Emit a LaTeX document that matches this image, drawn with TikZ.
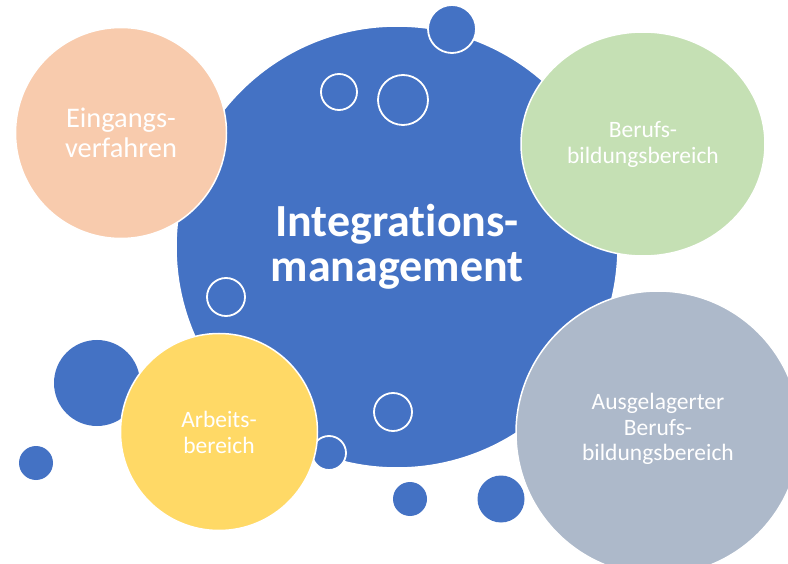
\documentclass[tikz,border=0pt]{standalone}
\usepackage{fontspec}
\setmainfont{Carlito}[Ligatures={NoCommon,NoRare,NoDiscretionary}]
\usetikzlibrary{shapes.geometric}
\definecolor{mainblue}{HTML}{4472C4}
\definecolor{peach}{HTML}{F8CBAD}
\definecolor{softgreen}{HTML}{C5E0B4}
\definecolor{softgray}{HTML}{ADB9CA}
\definecolor{softyellow}{HTML}{FFD966}
\begin{document}
\begin{tikzpicture}[x=1pt,y=-1pt,
  bubble/.style={circle, inner sep=0pt, outer sep=0pt, line width=1.5pt, draw=white, text=white, align=center},
  ring/.style={circle, inner sep=0pt, outer sep=0pt, draw=white, line width=1.8pt},
  dot/.style={circle, inner sep=0pt, outer sep=0pt, fill=mainblue},
  smalltext/.style={font=\fontsize{23.5}{26}\selectfont}]
\useasboundingbox (0,0) rectangle (788,564);
\clip (0,0) rectangle (788,564);
% main circle
\node[bubble, fill=mainblue, minimum size=442pt, font=\fontsize{46}{45}\selectfont\bfseries] (main) at (397,247) {Integrations-\\management};
% small decorative circles
\node[dot, draw=white, line width=1.8pt, minimum size=48pt] (topdot) at (452,29) {};
\node[ring, minimum size=36pt] (ringa) at (339,92) {};
\node[ring, minimum size=50pt] (ringb) at (403,100) {};
\node[ring, minimum size=38pt] (ringc) at (226,297) {};
\node[ring, minimum size=38pt] (ringd) at (393,412) {};
\node[dot, minimum size=34pt] (dota) at (410,499) {};
\node[dot, minimum size=47pt] (dotb) at (501,499) {};
\node[dot, minimum size=86pt] (dotc) at (97,383) {};
\node[dot, minimum size=34pt] (dotd) at (36,463) {};
\node[dot, draw=white, line width=1.8pt, minimum size=34pt] (dote) at (329,453) {};
% category circles
\node[bubble, fill=peach, minimum size=211pt, font=\fontsize{28.4}{30}\selectfont] (eing) at (121,133) {Eingangs-\\verfahren};
\node[bubble, ellipse, fill=softgreen, minimum width=244pt, minimum height=224pt, smalltext] (beruf) at (643,144) {Berufs-\\bildungsbereich};
\node[bubble, fill=softyellow, minimum size=197pt, smalltext] (arbeit) at (219,432) {Arbeits-\\bereich};
\node[bubble, fill=softgray, minimum size=284pt, font=\fontsize{23.5}{25.5}\selectfont] (ausg) at (658,433) {};
\node[text=white, align=center, font=\fontsize{23.5}{25.5}\selectfont] (ausgtext) at (ausg.center) [yshift=4pt] {Ausgelagerter\\Berufs-\\bildungsbereich};
\end{tikzpicture}
\end{document}
